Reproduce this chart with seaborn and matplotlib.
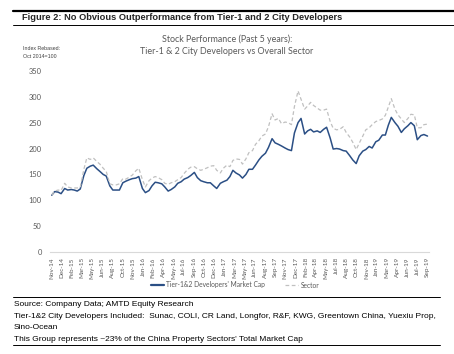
import pandas as pd
import matplotlib.pyplot as plt
import matplotlib.lines as mlines
import seaborn as sns
import numpy as np

# Semi-monthly readings, Nov 2014 .. Sep 2019 (index rebased Oct 2014 = 100)
dates = pd.date_range("2014-11-01", "2019-09-01", freq="SMS")

tier12 = [
    110, 117, 116, 113, 123, 120, 121, 120, 118, 122,
    148, 162, 166, 168, 161, 156, 150, 147, 128, 120,
    120, 120, 134, 137, 140, 142, 143, 146, 123, 115,
    119, 128, 135, 134, 132, 126, 118, 121, 126, 133,
    136, 141, 144, 148, 154, 144, 138, 136, 134, 134,
    128, 123, 133, 136, 139, 146, 158, 153, 149, 143,
    150, 160, 160, 168, 178, 185, 191, 202, 219, 211,
    208, 205, 201, 198, 196, 230, 250, 258, 228, 234,
    237, 232, 234, 231, 237, 241, 220, 199, 200, 199,
    196, 195, 186, 178, 171, 186, 195, 198, 204, 201,
    213, 216, 226, 226, 245, 260, 250, 243, 231, 238,
    244, 250, 244, 217, 225, 227, 224,
]

sector = [
    110, 118, 120, 119, 133, 126, 124, 124, 124, 125,
    160, 182, 179, 182, 175, 170, 162, 156, 132, 130,
    130, 132, 142, 141, 145, 149, 157, 162, 140, 126,
    138, 143, 146, 144, 140, 133, 131, 134, 136, 140,
    144, 152, 160, 164, 165, 161, 158, 160, 163, 166,
    167, 158, 153, 162, 168, 165, 177, 180, 179, 170,
    180, 192, 196, 208, 215, 224, 228, 242, 267, 255,
    258, 248, 251, 250, 246, 281, 311, 295, 276, 282,
    289, 283, 278, 274, 274, 276, 252, 239, 236, 237,
    242, 231, 222, 212, 198, 210, 224, 236, 240, 246,
    252, 254, 257, 264, 280, 296, 276, 265, 257, 250,
    258, 266, 265, 240, 240, 246, 247,
]

tick_labels = [
    "Nov-14", "Dec-14", "Feb-15", "Mar-15", "May-15", "Jun-15", "Aug-15",
    "Oct-15", "Nov-15", "Jan-16", "Feb-16", "Apr-16", "May-16", "Jul-16",
    "Sep-16", "Oct-16", "Dec-16", "Jan-17", "Mar-17", "May-17", "Jun-17",
    "Aug-17", "Sep-17", "Nov-17", "Dec-17", "Feb-18", "Apr-18", "May-18",
    "Jul-18", "Aug-18", "Oct-18", "Nov-18", "Jan-19", "Mar-19", "Apr-19",
    "Jun-19", "Jul-19", "Sep-19",
]

df = pd.DataFrame({"date": dates, "tier": tier12, "sector": sector})

sns.set_style("white")
plt.rcParams["font.family"] = ["Liberation Sans", "DejaVu Sans"]

grey_txt = "#595959"
fig = plt.figure(figsize=(4.54, 3.54), dpi=100)
W, H = 454, 354

# header bar
fig.add_artist(mlines.Line2D([13 / W, 1], [1 - 10.5 / H] * 2, color="black", lw=1.6))
fig.add_artist(mlines.Line2D([13 / W, 1], [1 - 24.5 / H] * 2, color="black", lw=0.7))
fig.text(22 / W, 1 - 17.5 / H, "Figure 2: No Obvious Outperformance from Tier-1 and 2 City Developers",
         weight="bold", fontsize=6.7, va="center", ha="left")

# chart titles
fig.text(227 / W, 1 - 39 / H, "Stock Performance (Past 5 years):", fontsize=6.4,
         color=grey_txt, ha="center", va="center", family=["Lato", "DejaVu Sans"])
fig.text(227 / W, 1 - 51 / H, "Tier-1 & 2 City Developers vs Overall Sector", fontsize=6.4,
         color=grey_txt, ha="center", va="center", family=["Lato", "DejaVu Sans"])
fig.text(23 / W, 1 - 48 / H, "Index Rebased:", fontsize=3.8, color="#404040", va="center")
fig.text(23 / W, 1 - 56 / H, "Oct 2014=100", fontsize=3.8, color="#404040", va="center")

ax = fig.add_axes([50 / W, 1 - 252.3 / H, 379 / W, 181.6 / H])
sns.lineplot(data=df, x="date", y="tier", ax=ax, color="#2b4f85", lw=1.1,
             label="Tier-1&2 Developers' Market Cap")
sns.lineplot(data=df, x="date", y="sector", ax=ax, color="#c0c0c0", lw=0.9,
             linestyle=(0, (3, 2)), label="Sector")

ax.set_ylim(0, 350)
ax.set_yticks(np.arange(0, 351, 50))
ax.set_xlim(pd.Timestamp("2014-10-24"), pd.Timestamp("2019-09-08"))
tick_pos = pd.date_range("2014-11-01", "2019-09-01", periods=len(tick_labels))
ax.set_xticks(tick_pos)
ax.set_xticklabels(tick_labels, rotation=90, fontsize=4.6, color=grey_txt,
                   family=["Lato", "DejaVu Sans"])
ax.set_xticks(dates, minor=True)
for lab in ax.get_yticklabels():
    lab.set_fontsize(5.4)
    lab.set_color(grey_txt)
    lab.set_family(["Lato", "DejaVu Sans"])
ax.tick_params(axis="y", length=0, pad=6)
ax.tick_params(axis="x", which="major", length=2, color="#d9d9d9", pad=1.5)
ax.tick_params(axis="x", which="minor", length=2, color="#e3e3e3", width=0.5)
ax.set_xlabel("")
ax.set_ylabel("")
for s in ["top", "right", "left"]:
    ax.spines[s].set_visible(False)
ax.spines["bottom"].set_color("#d9d9d9")
ax.spines["bottom"].set_linewidth(0.8)

leg = ax.legend(loc="center", bbox_to_anchor=(235 / W, 1 - 285 / H), bbox_transform=fig.transFigure,
                ncol=2, frameon=False, handlelength=2.0, columnspacing=3.0, handletextpad=0.3,
                labelcolor=grey_txt, prop={"family": ["Lato", "DejaVu Sans"], "size": 4.8})
leg.get_lines()[0].set_linewidth(1.6)

# footer
fig.add_artist(mlines.Line2D([13 / W, 440 / W], [1 - 297 / H] * 2, color="black", lw=0.7))
fig.add_artist(mlines.Line2D([13 / W, 440 / W], [1 - 345 / H] * 2, color="black", lw=0.7))
foot = [
    (305, "Source: Company Data; AMTD Equity Research"),
    (316.5, "Tier-1&2 City Developers Included:  Sunac, COLI, CR Land, Longfor, R&F, KWG, Greentown China, Yuexiu Prop,"),
    (327.5, "Sino-Ocean"),
    (339.5, "This Group represents ~23% of the China Property Sectors' Total Market Cap"),
]
for yy, t in foot:
    fig.text(14 / W, 1 - yy / H, t, fontsize=6.05, va="center", ha="left", color="black")

fig.savefig("out.png", dpi=100)
